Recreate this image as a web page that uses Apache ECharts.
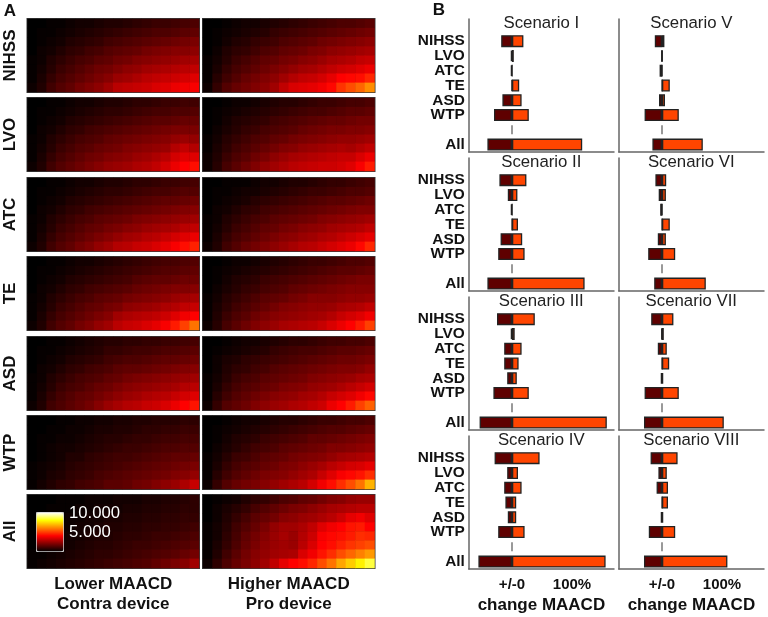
<!DOCTYPE html>
<html>
<head>
<meta charset="utf-8">
<style>
html, body { margin: 0; padding: 0; background: #fff; }
#chart { width: 768px; height: 617px; }
</style>
</head>
<body>
<div id="chart"></div>
<script src="https://cdn.jsdelivr.net/npm/echarts@6/dist/echarts.min.js"></script>
<script>
// panel A values are in hundreds, rows go top to bottom
var rowNames = ['NIHSS', 'LVO', 'ATC', 'TE', 'ASD', 'WTP', 'All'];
var columnNames = ['Lower MAACD\nContra device', 'Higher MAACD\nPro device'];
var xCells = ['1', '2', '3', '4', '5', '6', '7', '8', '9', '10', '11', '12', '13', '14', '15', '16', '17', '18'];
var yCells = ['1', '2', '3', '4', '5', '6', '7', '8'];

var nihssLower = [
    [0,0,1,1,2,3,3,4,5,5,6,7,8,9,9,10,11,12],
    [0,1,1,2,3,4,5,6,7,8,9,10,11,12,12,13,14,15],
    [0,1,2,3,5,6,7,8,10,11,12,13,14,15,16,17,18,19],
    [0,2,3,5,7,8,10,11,13,14,15,16,18,19,20,21,21,22],
    [1,2,5,7,9,11,12,14,15,17,18,20,21,22,23,24,25,26],
    [1,3,6,9,11,13,15,17,18,20,22,23,25,26,27,28,29,30],
    [1,4,8,11,13,15,17,19,21,24,25,27,29,30,31,32,33,35],
    [2,5,10,13,15,18,20,22,25,29,30,31,32,34,35,37,38,39]
];
var nihssHigher = [
    [0,0,1,2,3,3,4,5,6,7,8,9,10,11,12,12,13,14],
    [0,1,2,3,4,5,6,8,9,10,11,12,13,14,15,16,17,18],
    [0,1,3,5,6,8,9,10,12,13,14,15,17,18,19,20,21,22],
    [0,2,5,7,8,10,12,13,15,16,17,19,20,22,23,24,25,26],
    [1,3,6,9,11,13,15,16,18,19,21,22,24,26,27,28,30,31],
    [1,4,8,11,13,15,17,19,21,23,25,26,28,30,32,33,35,37],
    [1,6,10,13,16,18,20,22,25,28,30,31,33,36,40,41,42,46],
    [2,8,13,16,18,20,22,25,30,34,35,36,38,41,48,52,56,62]
];
var lvoLower = [
    [0,0,1,1,2,3,3,4,5,5,6,7,7,8,9,9,10,10],
    [0,1,1,2,3,4,5,6,7,7,8,9,10,11,11,12,12,13],
    [0,1,2,3,5,6,7,8,9,10,11,12,13,14,14,15,16,16],
    [0,2,3,5,7,8,10,11,12,13,14,15,16,17,18,19,19,19],
    [1,2,5,7,9,11,12,13,15,16,17,18,19,20,21,23,24,23],
    [1,3,6,9,11,13,14,16,17,18,20,21,22,23,24,28,30,28],
    [1,4,8,11,13,15,17,18,20,21,22,24,25,27,29,33,35,35],
    [2,5,10,13,15,17,19,21,23,24,25,27,28,30,33,37,40,42]
];
var lvoHigher = [
    [0,0,1,2,2,3,4,5,6,6,7,8,9,9,10,11,11,12],
    [0,1,2,3,4,5,6,7,8,9,10,11,11,12,13,14,14,15],
    [0,1,3,5,6,7,8,10,11,12,13,14,15,16,16,17,18,18],
    [0,2,4,6,8,9,11,12,13,14,16,17,18,19,19,20,20,21],
    [1,3,6,8,10,12,13,15,16,18,19,20,21,22,23,23,24,25],
    [1,4,7,10,12,14,16,18,20,21,23,24,25,26,27,26,28,30],
    [2,5,9,12,14,17,19,22,24,26,27,28,29,30,31,31,34,37],
    [2,6,11,14,17,20,23,25,27,29,30,31,32,32,33,35,39,44]
];
var atcLower = [
    [0,0,1,1,2,3,3,4,5,5,6,7,7,8,9,9,10,11],
    [0,1,1,2,3,4,5,6,7,7,8,9,10,11,11,12,13,13],
    [0,1,2,3,5,6,7,8,9,10,11,12,13,14,15,15,16,17],
    [0,2,3,5,7,8,10,11,12,13,14,15,16,17,18,19,20,21],
    [1,2,5,7,9,11,12,14,15,16,17,19,20,21,22,23,24,25],
    [1,3,6,9,11,13,15,16,18,19,21,22,24,25,26,27,29,30],
    [1,4,8,11,13,15,17,19,21,23,25,26,28,29,31,33,35,37],
    [2,5,10,13,15,18,20,23,25,28,29,31,32,34,36,39,42,45]
];
var atcHigher = [
    [0,0,1,1,1,2,3,3,4,5,5,6,7,8,8,9,10,11],
    [0,1,1,2,3,3,4,5,6,7,8,9,9,10,11,12,12,13],
    [0,1,2,3,4,6,7,8,9,10,11,12,13,14,14,15,16,17],
    [0,2,3,5,7,8,10,11,12,13,14,15,16,17,18,19,20,20],
    [1,2,5,7,9,11,12,14,15,16,17,18,20,21,22,23,24,25],
    [1,3,6,9,11,13,15,16,18,19,21,22,23,25,26,27,28,30],
    [1,4,8,11,13,15,17,19,21,22,24,25,27,28,30,32,34,36],
    [2,5,10,13,16,18,20,22,24,26,28,29,31,33,35,37,41,46]
];
var teLower = [
    [0,0,1,1,2,3,3,4,5,6,7,8,9,10,11,11,12,13],
    [0,1,1,2,3,4,5,6,7,8,9,10,11,12,13,13,14,15],
    [0,1,2,3,5,6,7,8,9,10,11,13,14,15,15,16,17,17],
    [0,2,3,5,7,8,10,11,12,13,14,16,17,18,19,20,20,21],
    [1,2,5,7,9,11,12,14,15,16,18,19,20,21,22,24,25,26],
    [1,3,6,9,11,13,15,16,18,19,22,23,24,25,27,28,30,31],
    [1,4,8,11,13,15,17,19,21,25,27,28,29,30,32,35,38,40],
    [2,5,10,13,15,18,20,23,25,29,31,32,34,36,39,44,50,58]
];
var teHigher = [
    [0,0,1,2,2,3,4,5,6,7,8,9,9,10,11,12,12,13],
    [0,1,2,3,4,5,6,7,8,9,10,11,12,13,14,14,15,16],
    [0,1,3,5,6,7,9,10,11,12,13,14,15,16,17,18,19,19],
    [0,2,4,6,8,9,11,12,13,15,16,17,18,19,20,21,21,21],
    [1,3,6,8,10,12,14,15,16,18,19,21,21,21,22,23,23,24],
    [1,4,7,10,12,14,16,18,20,21,22,23,23,24,26,27,28,30],
    [1,5,9,12,14,17,19,21,22,23,24,25,26,28,31,33,35,38],
    [2,6,11,14,17,20,22,24,26,27,28,29,31,34,37,40,44,50]
];
var asdLower = [
    [0,0,1,1,2,3,4,5,6,6,7,7,8,8,9,9,10,11],
    [0,1,1,2,3,4,5,6,8,8,9,10,10,11,12,12,13,14],
    [0,1,2,3,5,6,7,8,10,11,12,12,13,14,15,15,16,17],
    [0,2,3,5,7,8,10,11,12,14,15,15,16,17,18,19,20,21],
    [1,2,5,7,9,11,12,13,15,16,18,19,20,21,22,23,24,25],
    [1,3,6,9,11,12,14,16,17,19,21,22,23,24,25,26,28,29],
    [1,4,8,11,13,15,16,18,20,22,24,25,27,28,29,31,33,35],
    [2,5,10,12,14,16,18,21,24,26,28,29,31,32,34,37,40,43]
];
var asdHigher = [
    [0,0,1,2,3,3,4,5,6,7,7,8,9,10,10,11,11,12],
    [0,1,2,3,4,5,6,8,9,10,11,11,12,13,14,14,15,16],
    [0,2,4,5,7,8,9,10,11,12,13,14,15,16,17,17,18,19],
    [0,2,5,7,8,10,11,13,14,15,16,17,18,19,20,20,21,23],
    [1,3,6,9,11,12,14,15,16,17,18,20,21,22,23,24,26,27],
    [1,4,8,11,13,14,16,17,19,20,21,23,24,25,27,29,31,33],
    [1,6,10,13,15,17,19,21,22,23,25,26,28,31,33,35,38,41],
    [2,8,13,15,17,20,22,24,25,27,28,30,32,37,40,44,50,55]
];
var wtpLower = [
    [0,0,0,1,1,2,2,3,3,4,4,5,5,6,6,6,7,7],
    [0,0,1,1,2,2,3,4,4,5,5,6,7,7,8,8,9,9],
    [0,1,1,2,2,3,4,5,6,6,7,8,8,9,10,10,11,11],
    [0,1,2,3,3,4,5,6,7,8,9,9,10,11,12,12,13,13],
    [0,1,2,3,5,5,7,8,9,10,10,11,12,13,14,15,15,16],
    [1,2,3,4,6,7,8,9,10,11,12,13,14,15,16,17,18,19],
    [1,2,4,5,7,8,9,11,12,13,14,15,16,17,18,20,21,23],
    [1,3,5,7,8,10,11,12,14,14,15,17,18,20,22,24,27,31]
];
var wtpHigher = [
    [0,0,1,2,3,3,4,5,6,6,7,8,9,9,10,11,11,12],
    [0,1,2,3,4,5,6,7,8,9,10,11,12,13,13,14,15,16],
    [0,1,3,5,6,7,9,10,11,12,13,15,15,16,17,18,19,20],
    [0,2,4,6,8,10,11,12,14,15,16,17,18,20,20,21,22,23],
    [1,3,6,9,10,12,14,15,16,18,19,20,21,23,25,26,27,28],
    [1,4,8,11,13,14,16,17,19,20,22,24,26,29,31,33,34,36],
    [1,6,10,13,15,17,19,20,21,23,25,27,31,35,39,41,43,47],
    [2,8,13,16,18,19,21,23,25,27,29,33,38,42,47,52,58,68]
];
var allLower = [
    [0,0,0,1,1,1,2,2,2,3,3,3,4,4,5,5,6,7],
    [0,0,1,1,1,2,2,3,3,3,4,4,5,5,6,6,7,7],
    [0,1,1,1,2,2,3,3,4,4,5,5,6,6,7,7,8,8],
    [0,1,1,2,2,3,3,4,5,5,6,6,7,7,8,8,9,10],
    [0,1,1,2,3,3,4,5,5,6,7,7,8,9,9,10,11,12],
    [0,1,2,3,3,4,5,6,6,7,8,9,9,10,11,12,13,14],
    [1,1,2,3,4,5,6,7,7,8,9,10,11,12,13,14,16,18],
    [1,2,3,4,5,6,7,8,9,10,11,12,13,15,17,19,21,25]
];
var allHigher = [
    [0,1,2,3,5,7,8,10,12,13,15,16,18,20,21,23,24,24],
    [0,2,4,6,8,11,13,15,17,19,20,22,24,26,27,28,29,29],
    [0,2,5,8,11,14,16,18,21,22,24,25,27,29,32,36,38,35],
    [1,3,6,10,13,16,19,23,25,25,27,30,35,38,40,43,44,40],
    [1,3,7,11,15,18,21,24,26,24,28,32,39,41,42,44,47,46],
    [1,4,8,12,16,19,22,24,25,24,29,34,40,42,45,48,50,52],
    [1,5,10,14,18,21,23,25,26,27,34,38,43,47,52,56,60,64],
    [2,7,12,16,19,22,25,30,36,40,42,46,52,58,66,72,78,85]
];
var heatTables = [
    [nihssLower, nihssHigher],
    [lvoLower, lvoHigher],
    [atcLower, atcHigher],
    [teLower, teHigher],
    [asdLower, asdHigher],
    [wtpLower, wtpHigher],
    [allLower, allHigher]
];

// panel B, change in percent
var barCategories = ['', 'NIHSS', 'LVO', 'ATC', 'TE', 'ASD', 'WTP', ' ', 'All'];
var leftScenarios = ['Scenario I', 'Scenario II', 'Scenario III', 'Scenario IV'];
var rightScenarios = ['Scenario V', 'Scenario VI', 'Scenario VII', 'Scenario VIII'];

var downI = [null, -18, -2, -2, -0.5, -16, -30, null, -41];
var upI = [null, 19, 3, 0.5, 12, 16, 28, null, 117];
var downII = [null, -21, -7, -2, 0, -19, -23, null, -41];
var upII = [null, 24, 9, 0.5, 10, 17, 21, null, 121];
var downIII = [null, -25, -2, -13, -13, -8, -31, null, -54];
var upIII = [null, 38, 4.5, 16, 11, 8, 28, null, 158];
var downIV = [null, -29, -8, -13, -11, -7, -23, null, -56];
var upIV = [null, 46, 10, 16, 7, 7, 21, null, 156];
var downV = [null, -12, -1, -4, 0, -5, -29, null, -16];
var upV = [null, 4, 1, 0.5, 13, 5, 28, null, 68];
var downVI = [null, -11, -5.5, -3, 0, -7, -23, null, -13];
var upVI = [null, 7, 6.5, 0.5, 13, 6.5, 22, null, 73];
var downVII = [null, -18, -1, -7, 0, -2, -29, null, -30];
var upVII = [null, 19, 3, 8, 12, 2, 28, null, 103];
var downVIII = [null, -19, -6, -9, 0, -2, -22, null, -30];
var upVIII = [null, 26, 8, 10, 10, 2, 22, null, 109];

var leftDown = [downI, downII, downIII, downIV];
var leftUp = [upI, upII, upIII, upIV];
var rightDown = [downV, downVI, downVII, downVIII];
var rightUp = [upV, upVI, upVII, upVIII];

var fontName = '"Liberation Sans", Arial, sans-serif';
var myChart = echarts.init(document.getElementById('chart'));

var grids = [], xAxes = [], yAxes = [], series = [], titles = [];

function addTitle(text, x, y, size, bold, color, align) {
    titles.push({
        text: text,
        left: x,
        top: y,
        textAlign: align || 'center',
        textVerticalAlign: 'middle',
        padding: 0,
        textStyle: {
            fontFamily: fontName,
            fontSize: size,
            fontWeight: bold ? 'bold' : 'normal',
            color: color || '#111'
        }
    });
}

// heat maps
var heatLeft = [27.5, 203], heatTop = [19, 98, 178, 257, 337, 416, 495];
heatTables.forEach(function(pair, row) {
    pair.forEach(function(table, col) {
        var index = grids.length;
        grids.push({
            left: heatLeft[col], top: heatTop[row], width: 171.5, height: 73,
            show: true, borderColor: '#3a3a3a', borderWidth: 2, backgroundColor: '#000'
        });
        xAxes.push({
            gridIndex: index,
            type: 'category',
            data: xCells,
            axisLine: { show: false },
            axisTick: { show: false },
            axisLabel: { show: false },
            splitLine: { show: false },
            name: row == 6 ? columnNames[col] : '',
            nameLocation: 'middle',
            nameGap: 6,
            nameTextStyle: {
                fontFamily: fontName, fontSize: 17, fontWeight: 'bold',
                color: '#111', lineHeight: 20, verticalAlign: 'top'
            }
        });
        yAxes.push({
            gridIndex: index,
            type: 'category',
            inverse: true,
            data: yCells,
            axisLine: { show: false },
            axisTick: { show: false },
            axisLabel: { show: false },
            splitLine: { show: false },
            name: col == 0 ? rowNames[row] : '',
            nameLocation: 'middle',
            nameRotate: 90,
            nameGap: 9,
            nameTextStyle: {
                fontFamily: fontName, fontSize: 17, fontWeight: 'bold', color: '#111'
            }
        });
        var cells = [];
        table.forEach(function(line, y) {
            line.forEach(function(v, x) {
                cells.push([x, y, v]);
            });
        });
        series.push({
            type: 'heatmap',
            xAxisIndex: index,
            yAxisIndex: index,
            data: cells,
            silent: true,
            progressive: 0
        });
    });
});

// bar panels
var heatSeries = series.map(function(s, i) { return i; });
var barTop = [19, 158, 297, 436];

function addBarColumn(left, names, downs, ups, withLabels) {
    names.forEach(function(name, i) {
        var index = grids.length;
        grids.push({ left: left, top: barTop[i], width: 145.2, height: 133 });
        xAxes.push({
            gridIndex: index,
            type: 'value',
            min: -72,
            max: 170,
            splitLine: { show: false },
            axisLine: { show: true, lineStyle: { color: '#666', width: 1.5 } },
            axisTick: { show: false },
            axisLabel: {
                show: i == 3,
                customValues: [0, 100],
                margin: 8,
                fontFamily: fontName,
                fontSize: 15,
                fontWeight: 'bold',
                color: '#111',
                formatter: function(v) { return v == 0 ? '+/-0' : v + '%'; }
            },
            name: i == 3 ? 'change MAACD' : '',
            nameLocation: 'middle',
            nameGap: 28,
            nameTextStyle: {
                fontFamily: fontName, fontSize: 17, fontWeight: 'bold', color: '#111'
            }
        });
        yAxes.push({
            gridIndex: index,
            type: 'category',
            inverse: true,
            data: barCategories,
            axisLine: { show: true, onZero: false, lineStyle: { color: '#666', width: 1.5 } },
            axisTick: { show: false },
            axisLabel: {
                show: withLabels,
                interval: 0,
                margin: 4,
                fontFamily: fontName,
                fontSize: 15.4,
                fontWeight: 'bold',
                color: '#111'
            }
        });
        series.push({
            type: 'bar',
            xAxisIndex: index,
            yAxisIndex: index,
            data: downs[i],
            barWidth: 12,
            barGap: '-100%',
            silent: true,
            itemStyle: { color: '#5f0000', borderColor: '#222', borderWidth: 1.3 }
        });
        series.push({
            type: 'bar',
            xAxisIndex: index,
            yAxisIndex: index,
            data: ups[i],
            barWidth: 12,
            barGap: '-100%',
            silent: true,
            itemStyle: { color: '#ff4500', borderColor: '#222', borderWidth: 1.3 }
        });
        // small dash at zero in the empty slot above All
        series.push({
            type: 'scatter',
            xAxisIndex: index,
            yAxisIndex: index,
            data: [[0, ' ']],
            symbol: 'rect',
            symbolSize: [1.5, 9],
            silent: true,
            itemStyle: { color: '#555' }
        });
        addTitle(name, left + 72.5, barTop[i] + 4.5, 16.8, false, '#222');
    });
}
addBarColumn(468.8, leftScenarios, leftDown, leftUp, true);
addBarColumn(618.8, rightScenarios, rightDown, rightUp, false);

addTitle('A', 10, 11, 17, true);
addTitle('B', 439, 10, 17, true);
addTitle('10.000', 69, 513, 16.7, false, '#fff', 'left');
addTitle('5.000', 69, 532, 16.7, false, '#fff', 'left');

myChart.setOption({
    animation: false,
    backgroundColor: '#fff',
    title: titles,
    grid: grids,
    xAxis: xAxes,
    yAxis: yAxes,
    series: series,
    visualMap: {
        type: 'continuous',
        seriesIndex: heatSeries,
        min: 0,
        max: 100,
        left: 36,
        top: 512,
        itemWidth: 27,
        itemHeight: 39,
        padding: 0,
        text: null,
        showLabel: false,
        calculable: false,
        hoverLink: false,
        borderColor: '#ccc',
        borderWidth: 1,
        textStyle: { color: 'transparent' },
        inRange: {
            color: ['#000000', '#800000', '#ff0000', '#ff8000', '#ffff00', '#ffffff']
        }
    }
});
</script>
</body>
</html>
